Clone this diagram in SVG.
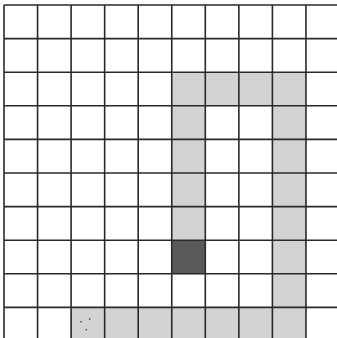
<svg xmlns="http://www.w3.org/2000/svg" width="337" height="338" viewBox="0 0 337 338">
<style>
.l{fill:#d1d3d4}
.d{fill:#58595b}
.g{stroke:#2b2829;stroke-width:1.6;fill:none}
.dot{fill:#231f20}
</style>
<rect width="337" height="338" fill="#fff"/>
<g id="cells">
<rect class="l" x="171.75" y="72.2" width="134.2" height="33.6"/>
<rect class="l" x="171.75" y="105.8" width="33.55" height="134.4"/>
<rect class="d" x="171.75" y="240.2" width="33.55" height="33.6"/>
<rect class="l" x="272.4" y="105.8" width="33.55" height="201.6"/>
<rect class="l" x="71.1" y="307.4" width="234.85" height="30.6"/>
</g>
<g id="dots">
<circle class="dot" cx="81" cy="321.7" r="0.8"/>
<circle class="dot" cx="89.7" cy="319" r="0.8"/>
<circle class="dot" cx="86.3" cy="329.7" r="0.8"/>
</g>
<g id="grid" class="g">
<path d="M4 5V338M37.55 5V338M71.1 5V338M104.65 5V338M138.2 5V338M171.75 5V338M205.3 5V338M238.85 5V338M272.4 5V338M305.95 5V338"/>
<path d="M4 5H337M4 38.6H337M4 72.2H337M4 105.8H337M4 139.4H337M4 173H337M4 206.6H337M4 240.2H337M4 273.8H337M4 307.4H337"/>
</g>
</svg>
